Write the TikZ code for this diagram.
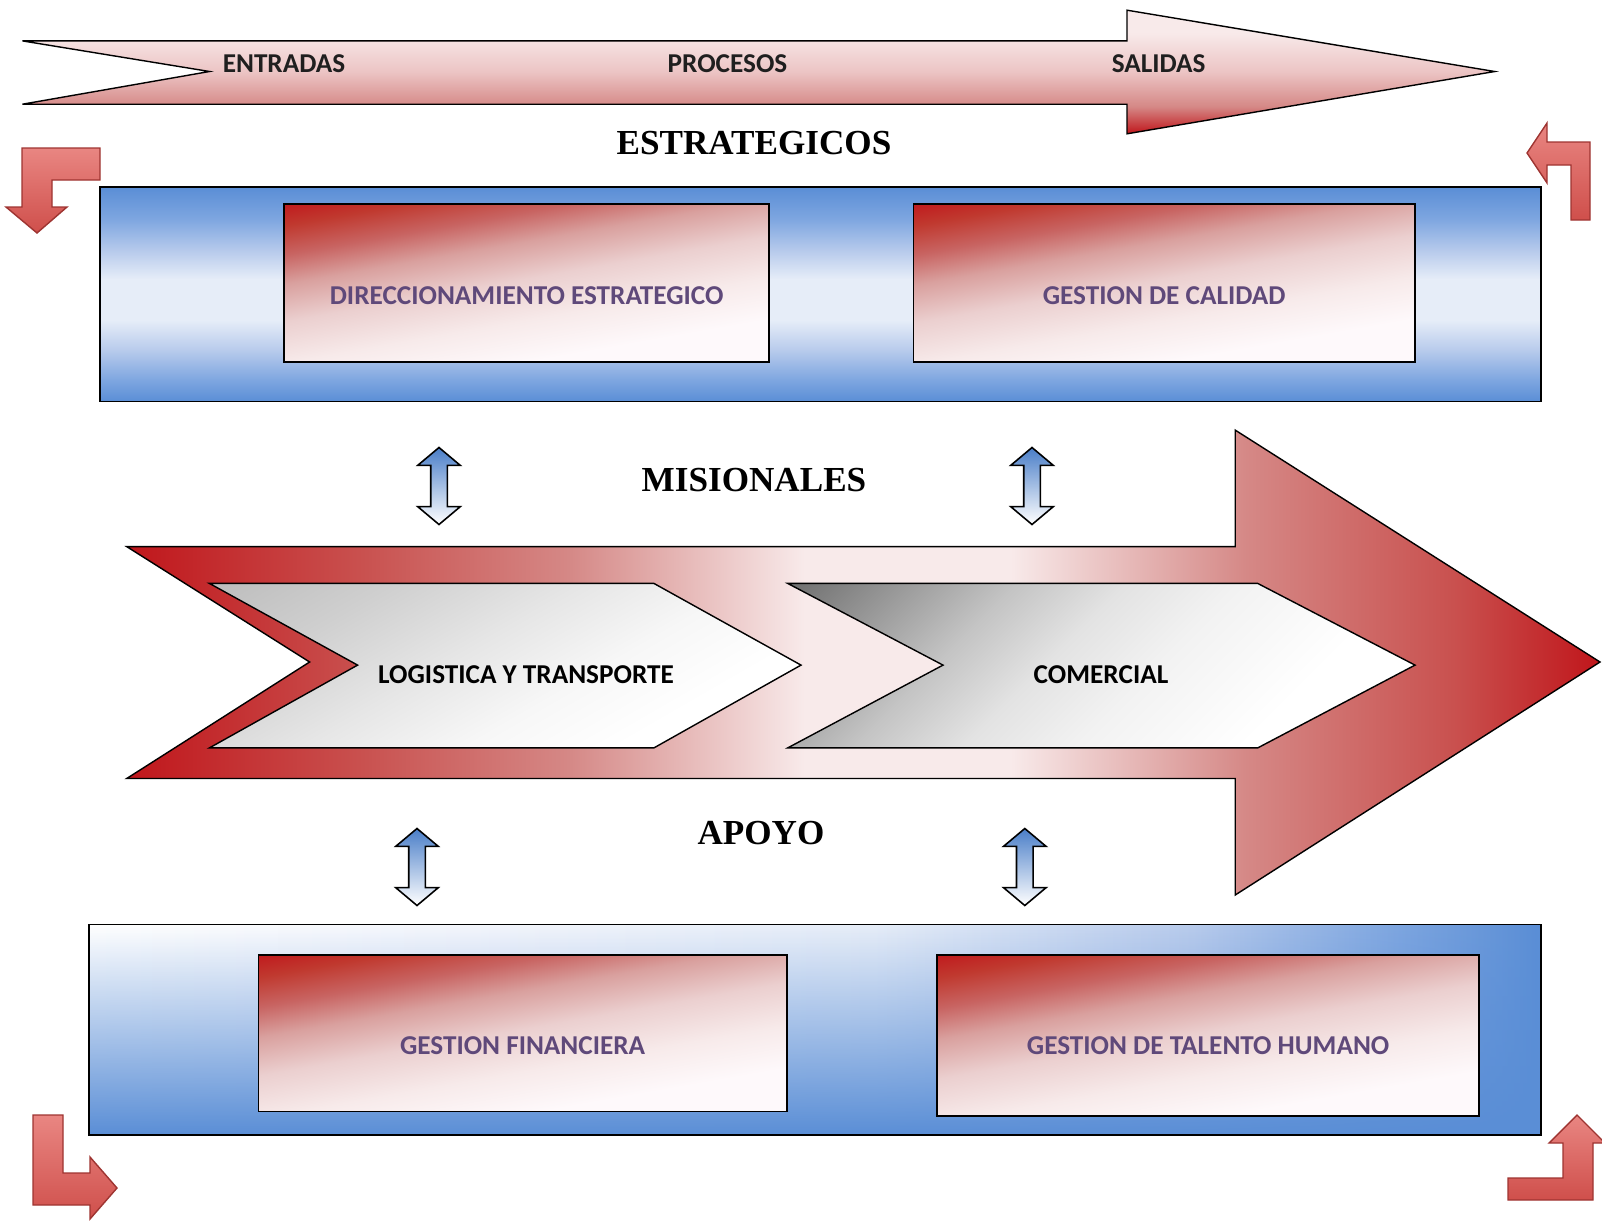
\documentclass[tikz,border=0pt]{standalone}
\usepackage{fontspec}
\usetikzlibrary{shapes.arrows,fadings}
\newfontfamily\boxfont{Carlito}
\newfontfamily\headfont{Liberation Serif}

\definecolor{arrowred}{HTML}{C0161B}
\definecolor{rosedeep}{HTML}{C9514F}
\definecolor{rosemid}{HTML}{D58886}
\definecolor{rosepale}{HTML}{ECC4C4}
\definecolor{roselight}{HTML}{F8EAEA}
\definecolor{boxred}{HTML}{C0161B}
\definecolor{boxred2}{HTML}{C0392F}
\definecolor{boxred3}{HTML}{C86462}
\definecolor{boxrose}{HTML}{D9A09E}
\definecolor{boxpale}{HTML}{EBCFCF}
\definecolor{boxpale2}{HTML}{F7EAEA}
\definecolor{boxwhite}{HTML}{FEF9FB}
\definecolor{bandblue}{HTML}{5A8ED6}
\definecolor{bandmid}{HTML}{7EA6E0}
\definecolor{bandpale}{HTML}{B8CBEC}
\definecolor{bandlight}{HTML}{E6EDF8}
\definecolor{bandwhite}{HTML}{F4F6FC}
\definecolor{grayA}{HTML}{BDBDBD}
\definecolor{grayB}{HTML}{CFCFCF}
\definecolor{grayC}{HTML}{E6E6E6}
\definecolor{grayD}{HTML}{F7F7F7}
\definecolor{darkA}{HTML}{707070}
\definecolor{darkB}{HTML}{9A9A9A}
\definecolor{darkC}{HTML}{C4C4C4}
\definecolor{darkD}{HTML}{E3E3E3}
\definecolor{darkE}{HTML}{F2F2F2}
\definecolor{txtpurple}{HTML}{5F497A}
\definecolor{cornerred}{HTML}{CF4F4B}
\definecolor{cornerlight}{HTML}{E98682}
\definecolor{cornerline}{HTML}{9E3431}
\definecolor{dblblue}{HTML}{4A7EC8}

\pgfdeclareverticalshading{topbar}{100bp}{color(0bp)=(arrowred); color(25bp)=(arrowred); color(36bp)=(rosemid); color(50bp)=(rosepale); color(66bp)=(roselight); color(100bp)=(roselight)}
\pgfdeclarehorizontalshading{bigbar}{100bp}{color(0bp)=(arrowred); color(25bp)=(arrowred); color(33bp)=(rosedeep); color(40bp)=(rosemid); color(48bp)=(roselight); color(55bp)=(roselight); color(63bp)=(rosemid); color(70bp)=(rosedeep); color(75bp)=(arrowred); color(100bp)=(arrowred)}
\pgfdeclarehorizontalshading{redfade}{100bp}{color(0bp)=(boxred); color(20bp)=(boxred); color(26bp)=(boxred2); color(33bp)=(boxred3); color(40bp)=(boxrose); color(49bp)=(boxpale); color(59bp)=(boxpale2); color(69bp)=(boxwhite); color(100bp)=(boxwhite)}
\pgfdeclareverticalshading{bandv}{100bp}{color(0bp)=(bandblue); color(25bp)=(bandblue); color(30bp)=(bandmid); color(37bp)=(bandpale); color(44bp)=(bandlight); color(53.5bp)=(bandlight); color(60bp)=(bandpale); color(67.5bp)=(bandmid); color(75bp)=(bandblue); color(100bp)=(bandblue)}
\pgfdeclarehorizontalshading{bandh}{100bp}{color(0bp)=(white); color(25bp)=(white); color(38bp)=(bandwhite); color(52bp)=(bandlight); color(63bp)=(bandpale); color(70bp)=(bandmid); color(75bp)=(bandblue); color(100bp)=(bandblue)}
\pgfdeclarehorizontalshading{grayfade}{100bp}{color(0bp)=(grayA); color(16bp)=(grayA); color(30bp)=(grayB); color(45bp)=(grayC); color(58bp)=(grayD); color(70bp)=(white); color(100bp)=(white)}
\pgfdeclarehorizontalshading{darkfade}{100bp}{color(0bp)=(darkA); color(15bp)=(darkA); color(25bp)=(darkB); color(35bp)=(darkC); color(45bp)=(darkD); color(55bp)=(darkE); color(70bp)=(white); color(100bp)=(white)}
\tikzfading[name=bandrise, top color=transparent!100, bottom color=transparent!0]

\tikzset{
  toptext/.style={font=\boxfont\bfseries\fontsize{15.5}{18}\selectfont, text=black!88, inner sep=0},
  boxtext/.style={font=\boxfont\bfseries\fontsize{15.5}{18}\selectfont, text=txtpurple, inner sep=0},
  headtext/.style={font=\headfont\bfseries\fontsize{20}{24}\selectfont, inner sep=0},
  redbox/.style={draw, line width=1pt, shade, shading=redfade, shading angle=-80, inner sep=0},
  cornerarrow/.style={draw=cornerline, line width=0.8pt, top color=cornerlight, bottom color=cornerred},
  updown/.style={double arrow, draw, line width=0.9pt, shape border rotate=90, inner sep=0.15cm,
    minimum height=1.54cm, minimum width=0.82cm, double arrow head extend=0.26cm,
    double arrow tip angle=100, top color=dblblue, bottom color=white}
}

\begin{document}
\begin{tikzpicture}[x=0.02cm, y=-0.02cm]
\useasboundingbox (0,0) rectangle (1602,1221);
\clip (0,0) rectangle (1602,1221);

\path[draw, thick, shade, shading=topbar] (22.5,40.9) -- (1127,40.9) -- (1127,10.2) -- (1494.7,71.5) -- (1127,133.8) -- (1127,104.2) -- (22.5,104.2) -- (209.5,71.5) -- cycle;
\node[toptext] (ent) at (284,63.3) {ENTRADAS};
\node[toptext] (proc) at (727.5,63.3) {PROCESOS};
\node[toptext] (sal) at (1158.6,63.3) {SALIDAS};

\node[headtext] (estr) at (754,143) {ESTRATEGICOS};
\path[draw, line width=1pt, shade, shading=bandv] (100,187) rectangle (1540.7,401.5);
\node[redbox, minimum width=9.706cm, minimum height=3.148cm] (dir) at (526.65,283) {};
\node[redbox, minimum width=10.032cm, minimum height=3.148cm] (cal) at (1164.2,283) {};
\node[boxtext] (dirtxt) at ([yshift=-7pt]dir.center) {DIRECCIONAMIENTO ESTRATEGICO};
\node[boxtext] (caltxt) at ([yshift=-7pt]cal.center) {GESTION DE CALIDAD};

\node[headtext] (mis) at (754,480) {MISIONALES};
\path[draw, thick, shade, shading=bigbar] (126.7,546.6) -- (1235.2,546.6) -- (1235.2,430.1) -- (1600,662) -- (1235.2,895) -- (1235.2,778.5) -- (126.7,778.5) -- (309.6,662) -- cycle;
\path[draw, thick, shade, shading=grayfade, shading angle=-60] (209.4,583.4) -- (653.9,583.4) -- (801,665.1) -- (653.9,747.9) -- (209.4,747.9) -- (357.6,665.1) -- cycle;
\path[draw, thick, shade, shading=darkfade, shading angle=-45] (787.7,583.4) -- (1257.7,583.4) -- (1415,665.1) -- (1257.7,747.9) -- (787.7,747.9) -- (943,665.1) -- cycle;
\node[toptext, text=black] (log) at (526,674.3) {LOGISTICA Y TRANSPORTE};
\node[toptext, text=black] (com) at (1101,674.3) {COMERCIAL};

\node[headtext] (apo) at (761,833) {APOYO};
\path[shade, shading=bandh] (88.9,924.6) rectangle (1540.7,1135);
\path[fill=bandblue, path fading=bandrise] (88.9,924.6) rectangle (1540.7,1135);
\path[draw, line width=1pt] (88.9,924.6) rectangle (1540.7,1135);
\node[redbox, minimum width=10.564cm, minimum height=3.126cm] (fin) at (522.6,1033.45) {};
\node[redbox, minimum width=10.85cm, minimum height=3.208cm] (tal) at (1208.15,1035.5) {};
\node[boxtext] (fintxt) at ([yshift=-7pt]fin.center) {GESTION FINANCIERA};
\node[boxtext] (taltxt) at ([yshift=-6pt]tal.center) {GESTION DE TALENTO HUMANO};

\node[updown] (ud1) at (439,486) {};
\node[updown] (ud2) at (1032,486) {};
\node[updown] (ud3) at (417,867) {};
\node[updown] (ud4) at (1024.8,867) {};

\path[cornerarrow] (100,148) -- (22,148) -- (22,207) -- (6,207) -- (37,233) -- (67,207) -- (52,207) -- (52,180) -- (100,180) -- cycle;
\path[cornerarrow] (1527,153) -- (1547,123) -- (1547,142) -- (1590,142) -- (1590,220) -- (1571,220) -- (1571,165) -- (1547,165) -- (1547,183) -- cycle;
\path[cornerarrow] (33,1115) -- (63,1115) -- (63,1173) -- (90,1173) -- (90,1157) -- (117,1188) -- (90,1219) -- (90,1205) -- (33,1205) -- cycle;
\path[cornerarrow] (1508,1178) -- (1563,1178) -- (1563,1143) -- (1549,1143) -- (1577,1115) -- (1605,1143) -- (1593,1143) -- (1593,1200) -- (1508,1200) -- cycle;
\end{tikzpicture}
\end{document}
